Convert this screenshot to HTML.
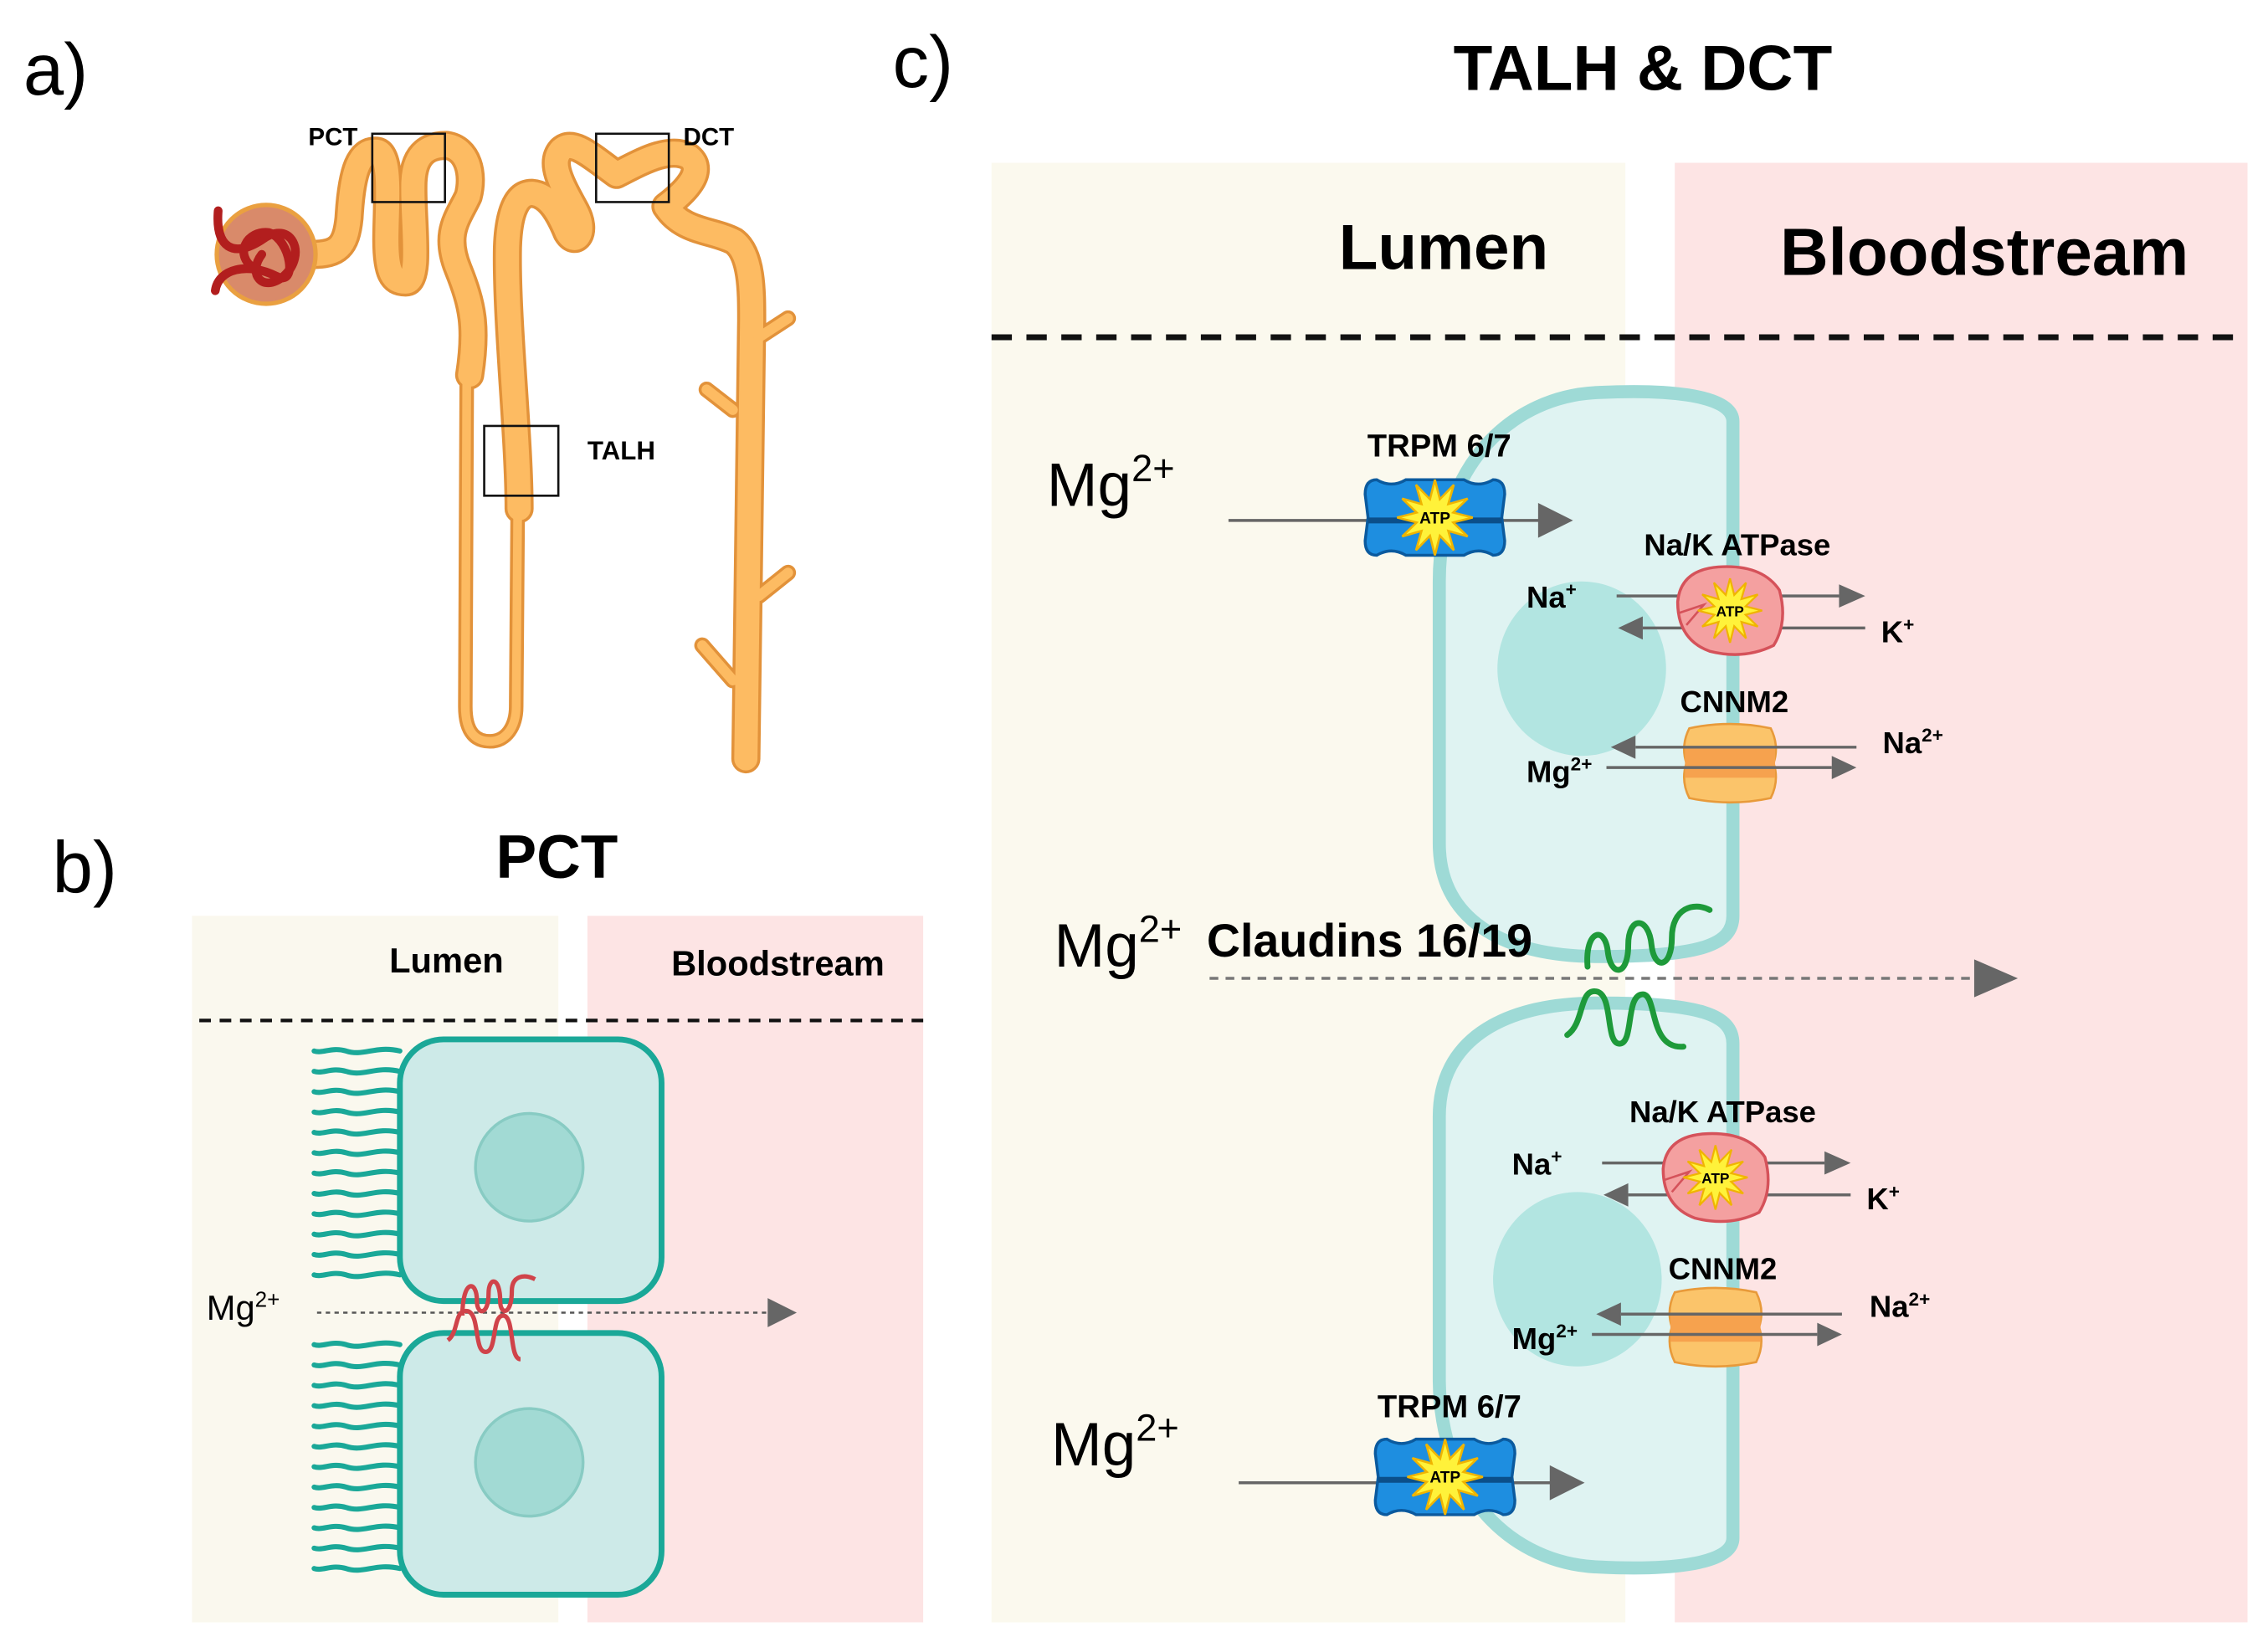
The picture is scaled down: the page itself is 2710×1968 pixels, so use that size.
<!DOCTYPE html>
<html><head><meta charset="utf-8"><style>
html,body{margin:0;padding:0;background:#fff}
svg{display:block}
text{font-family:"Liberation Sans",Arial,sans-serif}
.b{font-weight:bold}
</style></head><body>
<svg width="2710" height="1968" viewBox="0 0 1560 1133" xmlns="http://www.w3.org/2000/svg">
<defs>
<path id="mv" d="M275,0 C258,-4 250,4 238,0 C228,-3 222,2 216,0"/>
<polygon id="star" points="26,0 12.6,3.4 22.5,13 9.2,9.2 13,22.5 3.4,12.6 0,26 -3.4,12.6 -13,22.5 -9.2,9.2 -22.5,13 -12.6,3.4 -26,0 -12.6,-3.4 -22.5,-13 -9.2,-9.2 -13,-22.5 -3.4,-12.6 0,-26 3.4,-12.6 13,-22.5 9.2,-9.2 22.5,-13 12.6,-3.4" fill="#fff23a" stroke="#f0b400" stroke-width="1.5"/>
<g id="trpm">
<path d="M-40,-26 Q-30,-20 -20,-26 L20,-26 Q30,-20 40,-26 Q48,-26 48,-16 L46,0 L48,16 Q48,26 40,26 Q30,20 20,26 L-20,26 Q-30,20 -40,26 Q-48,26 -48,16 L-46,0 L-48,-16 Q-48,-26 -40,-26Z" fill="#1e8ee0" stroke="#0b5a9e" stroke-width="2"/>
<line x1="-46" y1="2" x2="46" y2="2" stroke="#0b4f8a" stroke-width="4"/>
<use href="#star"/>
<text x="0" y="4" font-size="11" text-anchor="middle" class="b">ATP</text>
</g>
<g id="nak">
<path d="M-36,-6 Q-34,-28 -8,-30 Q22,-32 34,-14 Q40,8 30,24 Q10,34 -14,28 Q-36,20 -36,-6Z" fill="#f4a0a0" stroke="#d5525a" stroke-width="2"/>
<path d="M-36,2 L-18,-4 L-30,10" fill="none" stroke="#d5525a" stroke-width="1.5"/>
<g transform="scale(0.85)"><use href="#star"/></g>
<text x="0" y="4" font-size="10" text-anchor="middle" class="b">ATP</text>
</g>
<g id="cnnm">
<path d="M-28,-24 Q0,-30 28,-24 Q34,-12 30,0 Q34,12 28,24 Q0,30 -28,24 Q-34,12 -30,0 Q-34,-12 -28,-24Z" fill="#fbc46a" stroke="#e89a3a" stroke-width="1.5"/>
<rect x="-31" y="-10" width="62" height="20" fill="#f6a24e"/>
</g>
</defs>

<!-- labels -->
<text x="16" y="65" font-size="50">a)</text>
<text x="36" y="614" font-size="50">b)</text>
<text x="614" y="60" font-size="50">c)</text>
<text x="1130" y="62" font-size="44" class="b" text-anchor="middle">TALH &amp; DCT</text>
<text x="383" y="604" font-size="42" class="b" text-anchor="middle">PCT</text>

<!-- kidney -->
<defs>
<path id="k1" d="M215,175 C232,175 238,170 240,150 C242,115 248,104 258,104 C270,104 266,140 266,165 C266,188 270,194 279,194 C290,194 283,150 284,125 C285,104 296,100 307,100 C322,102 326,120 322,135 C315,150 305,160 315,185 C325,210 328,225 323,258"/>
<path id="k2" d="M357,350 C357,300 348,220 349,170 C350,140 358,133 366,133 C378,134 385,148 390,160 C396,170 404,160 396,145 C385,125 378,112 386,103 C394,96 405,106 424,120 C440,112 460,100 474,108 C486,118 470,133 458,142 C470,160 490,158 505,166 C517,175 517,200 517,220 L513,522"/>
</defs>
<g fill="none" stroke-linecap="round" stroke-linejoin="round">
<use href="#k1" stroke="#e2923a" stroke-width="20"/>
<use href="#k2" stroke="#e2923a" stroke-width="20"/>
<path d="M522,232 L542,219 M504,282 L486,268 M522,410 L542,394 M504,468 L483,444" stroke="#e2923a" stroke-width="11"/>
<path d="M321,258 L320,486 C320,505 328,510 337,510 C348,510 355,500 355,486 L356,355" stroke="#e2923a" stroke-width="10"/>
<use href="#k1" stroke="#fdbb62" stroke-width="16"/>
<use href="#k2" stroke="#fdbb62" stroke-width="16"/>
<path d="M522,232 L542,219 M504,282 L486,268 M522,410 L542,394 M504,468 L483,444" stroke="#fdbb62" stroke-width="7"/>
<path d="M321,258 L320,486 C320,505 328,510 337,510 C348,510 355,500 355,486 L356,355" stroke="#fdbb62" stroke-width="6"/>
</g>
<circle cx="183" cy="175" r="34" fill="#d98a6a" stroke="#eaa040" stroke-width="3"/>
<g fill="none" stroke="#b21e1e" stroke-width="6" stroke-linecap="round">
<path d="M150,145 C148,170 160,178 180,165 C200,150 212,175 195,190 C180,202 170,188 180,175"/>
<path d="M148,200 C150,185 170,180 190,190 C205,198 200,165 185,160 C170,158 160,175 175,185"/>
</g>
<g fill="none" stroke="#111" stroke-width="1.5">
<rect x="256" y="92" width="50" height="47"/>
<rect x="410" y="92" width="50" height="47"/>
<rect x="333" y="293" width="51" height="48"/>
</g>
<text x="212" y="100" font-size="17" class="b">PCT</text>
<text x="470" y="100" font-size="17" class="b">DCT</text>
<text x="404" y="316" font-size="18" class="b">TALH</text>

<!-- panel b -->
<rect x="132" y="630" width="252" height="486" fill="#faf8ee"/>
<rect x="404" y="630" width="231" height="486" fill="#fde4e4"/>
<text x="307" y="669" font-size="24" class="b" text-anchor="middle">Lumen</text>
<text x="535" y="671" font-size="24" class="b" text-anchor="middle">Bloodstream</text>
<line x1="137" y1="702" x2="635" y2="702" stroke="#111" stroke-width="2.5" stroke-dasharray="8,6"/>
<g fill="none" stroke="#1aa898" stroke-width="3.5" stroke-linecap="round">
<use href="#mv" y="723"/><use href="#mv" y="737"/><use href="#mv" y="751"/><use href="#mv" y="765"/><use href="#mv" y="779"/><use href="#mv" y="793"/><use href="#mv" y="807"/><use href="#mv" y="821"/><use href="#mv" y="835"/><use href="#mv" y="849"/><use href="#mv" y="863"/><use href="#mv" y="877"/>
<use href="#mv" y="925"/><use href="#mv" y="939"/><use href="#mv" y="953"/><use href="#mv" y="967"/><use href="#mv" y="981"/><use href="#mv" y="995"/><use href="#mv" y="1009"/><use href="#mv" y="1023"/><use href="#mv" y="1037"/><use href="#mv" y="1051"/><use href="#mv" y="1065"/><use href="#mv" y="1079"/>
</g>
<rect x="275" y="715" width="180" height="180" rx="30" fill="#cdeae8" stroke="#1aa898" stroke-width="4"/>
<rect x="275" y="917" width="180" height="180" rx="30" fill="#cdeae8" stroke="#1aa898" stroke-width="4"/>
<circle cx="364" cy="803" r="37" fill="#a2dad4" stroke="#88cbc3" stroke-width="2"/>
<circle cx="364" cy="1006" r="37" fill="#a2dad4" stroke="#88cbc3" stroke-width="2"/>
<text x="142" y="908" font-size="24">Mg<tspan font-size="15" dy="-9">2+</tspan></text>
<line x1="218" y1="903" x2="528" y2="903" stroke="#555" stroke-width="1.5" stroke-dasharray="3,3"/>
<path d="M528,893 L548,903 L528,913Z" fill="#666"/>
<g fill="none" stroke="#d0434a" stroke-width="3">
<path d="M318,905 C318,880 328,880 328,895 C328,905 336,905 336,890 C336,878 344,878 344,895 C344,905 352,905 352,888 C352,878 360,876 368,880"/>
<path d="M308,922 C316,916 312,900 322,902 C330,905 326,930 334,930 C342,930 338,905 346,905 C354,905 350,935 358,935"/>
</g>

<!-- panel c -->
<rect x="682" y="112" width="436" height="1004" fill="#fbf9ee"/>
<rect x="1152" y="112" width="394" height="1004" fill="#fde4e4"/>
<text x="993" y="185" font-size="44" class="b" text-anchor="middle">Lumen</text>
<text x="1365" y="189" font-size="46" class="b" text-anchor="middle">Bloodstream</text>
<line x1="682" y1="232" x2="1546" y2="232" stroke="#111" stroke-width="4" stroke-dasharray="14,10"/>
<path d="M1100,270 C1140,268 1192,270 1192,290 L1192,630 C1192,650 1170,658 1100,658 C1030,658 990,630 990,580 L990,400 C990,320 1040,272 1100,270Z" fill="#dff3f2" stroke="#9edad6" stroke-width="9"/>
<path d="M1100,1078 C1140,1080 1192,1078 1192,1058 L1192,718 C1192,698 1170,690 1100,690 C1030,690 990,718 990,768 L990,948 C990,1028 1040,1076 1100,1078Z" fill="#dff3f2" stroke="#9edad6" stroke-width="9"/>
<ellipse cx="1088" cy="460" rx="58" ry="60" fill="#b2e5e1"/>
<ellipse cx="1085" cy="880" rx="58" ry="60" fill="#b2e5e1"/>

<!-- upper -->
<text x="720" y="348" font-size="42">Mg<tspan font-size="26" dy="-17">2+</tspan></text>
<line x1="845" y1="358" x2="1060" y2="358" stroke="#666" stroke-width="2"/>
<use href="#trpm" x="987" y="356"/>
<path d="M1058,346 L1082,358 L1058,370Z" fill="#666"/>
<text x="990" y="314" font-size="22" class="b" text-anchor="middle">TRPM 6/7</text>
<text x="1195" y="382" font-size="21" class="b" text-anchor="middle">Na/K ATPase</text>
<line x1="1112" y1="410" x2="1265" y2="410" stroke="#666" stroke-width="2"/>
<path d="M1265,402 L1283,410 L1265,418Z" fill="#666"/>
<line x1="1283" y1="432" x2="1130" y2="432" stroke="#666" stroke-width="2"/>
<path d="M1130,424 L1113,432 L1130,440Z" fill="#666"/>
<use href="#nak" x="1190" y="420"/>
<text x="1050" y="418" font-size="21" class="b">Na<tspan font-size="13" dy="-8">+</tspan></text>
<text x="1294" y="442" font-size="21" class="b">K<tspan font-size="13" dy="-8">+</tspan></text>
<text x="1193" y="490" font-size="21" class="b" text-anchor="middle">CNNM2</text>
<use href="#cnnm" x="1190" y="525"/>
<line x1="1277" y1="514" x2="1125" y2="514" stroke="#666" stroke-width="2"/>
<path d="M1125,506 L1108,514 L1125,522Z" fill="#666"/>
<line x1="1105" y1="528" x2="1260" y2="528" stroke="#666" stroke-width="2"/>
<path d="M1260,520 L1277,528 L1260,536Z" fill="#666"/>
<text x="1050" y="538" font-size="21" class="b">Mg<tspan font-size="13" dy="-8">2+</tspan></text>
<text x="1295" y="518" font-size="21" class="b">Na<tspan font-size="13" dy="-8">2+</tspan></text>

<!-- claudins -->
<text x="725" y="665" font-size="42">Mg<tspan font-size="26" dy="-17">2+</tspan></text>
<text x="830" y="658" font-size="32" class="b">Claudins 16/19</text>
<line x1="832" y1="673" x2="1360" y2="673" stroke="#777" stroke-width="2" stroke-dasharray="6,5"/>
<path d="M1358,660 L1388,673 L1358,686Z" fill="#666"/>
<g fill="none" stroke="#1e9a3a" stroke-width="4" stroke-linecap="round">
<path d="M1092,665 C1090,640 1104,636 1106,655 C1108,672 1120,672 1120,650 C1120,630 1134,630 1136,650 C1138,668 1150,666 1150,645 C1150,625 1165,620 1176,626"/>
<path d="M1078,712 C1090,704 1086,680 1098,682 C1110,684 1104,718 1114,718 C1124,718 1118,684 1130,684 C1140,684 1134,722 1158,720"/>
</g>

<!-- lower -->
<text x="1185" y="772" font-size="21" class="b" text-anchor="middle">Na/K ATPase</text>
<line x1="1102" y1="800" x2="1255" y2="800" stroke="#666" stroke-width="2"/>
<path d="M1255,792 L1273,800 L1255,808Z" fill="#666"/>
<line x1="1273" y1="822" x2="1120" y2="822" stroke="#666" stroke-width="2"/>
<path d="M1120,814 L1103,822 L1120,830Z" fill="#666"/>
<use href="#nak" x="1180" y="810"/>
<text x="1040" y="808" font-size="21" class="b">Na<tspan font-size="13" dy="-8">+</tspan></text>
<text x="1284" y="832" font-size="21" class="b">K<tspan font-size="13" dy="-8">+</tspan></text>
<text x="1185" y="880" font-size="21" class="b" text-anchor="middle">CNNM2</text>
<use href="#cnnm" x="1180" y="913"/>
<line x1="1267" y1="904" x2="1115" y2="904" stroke="#666" stroke-width="2"/>
<path d="M1115,896 L1098,904 L1115,912Z" fill="#666"/>
<line x1="1095" y1="918" x2="1250" y2="918" stroke="#666" stroke-width="2"/>
<path d="M1250,910 L1267,918 L1250,926Z" fill="#666"/>
<text x="1040" y="928" font-size="21" class="b">Mg<tspan font-size="13" dy="-8">2+</tspan></text>
<text x="1286" y="906" font-size="21" class="b">Na<tspan font-size="13" dy="-8">2+</tspan></text>
<text x="723" y="1008" font-size="42">Mg<tspan font-size="26" dy="-17">2+</tspan></text>
<line x1="852" y1="1020" x2="1068" y2="1020" stroke="#666" stroke-width="2"/>
<use href="#trpm" x="994" y="1016"/>
<path d="M1066,1008 L1090,1020 L1066,1032Z" fill="#666"/>
<text x="997" y="975" font-size="22" class="b" text-anchor="middle">TRPM 6/7</text>
</svg>
</body></html>
